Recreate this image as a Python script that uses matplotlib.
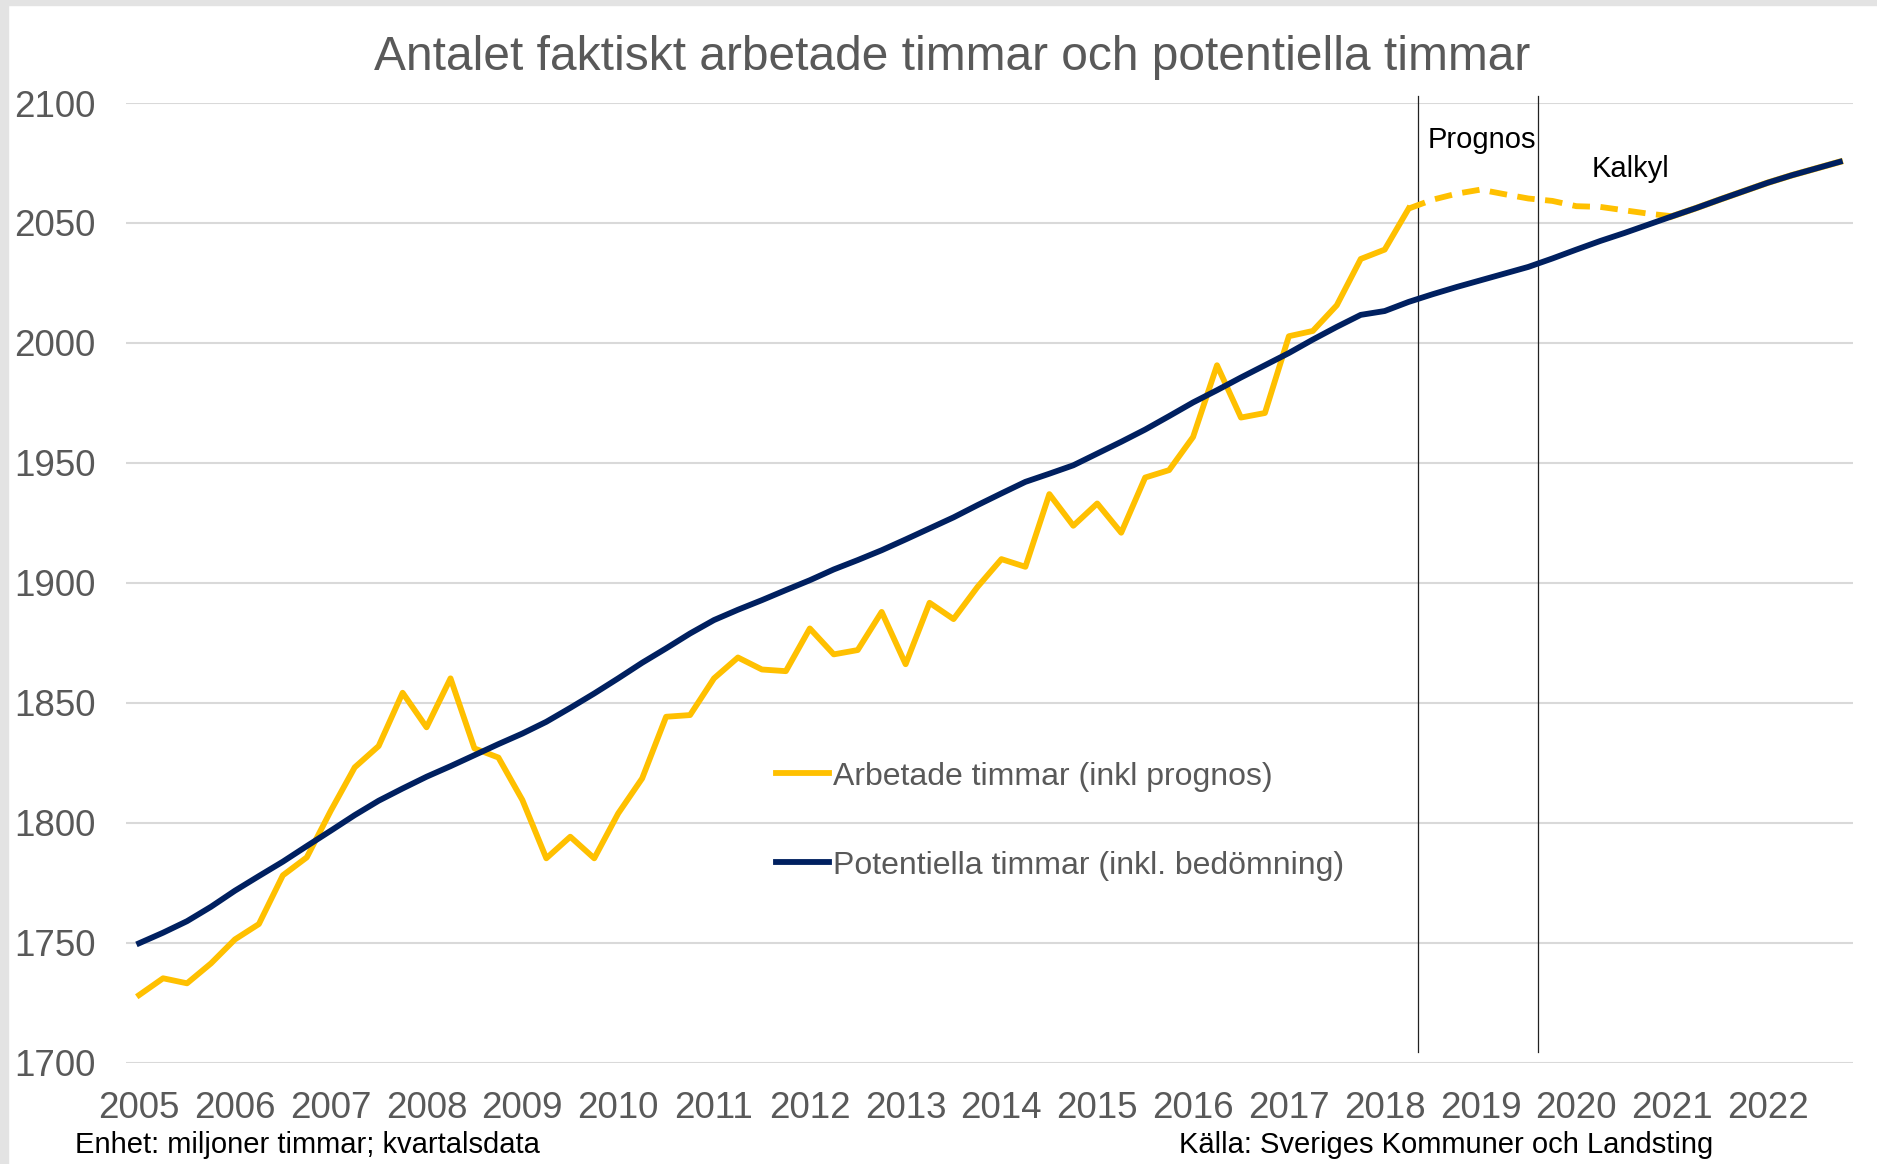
import matplotlib
matplotlib.use("Agg")
import matplotlib.pyplot as plt
from matplotlib.patches import Rectangle

plt.rcParams["font.family"] = ["Liberation Sans", "DejaVu Sans"]

# quarterly data 2005Q1 - 2022Q4 (miljoner timmar)
years = list(range(2005, 2023))

arbetade = [
    1728.2, 1735.2, 1733.1, 1741.4, 1751.4, 1757.8, 1778.1, 1785.6,
    1805.0, 1823.1, 1832.0, 1854.2, 1839.8, 1860.2, 1831.0, 1827.2,
    1809.5, 1785.2, 1794.2, 1785.2, 1803.9, 1818.5, 1844.2, 1844.9,
    1860.2, 1868.9, 1863.9, 1863.2, 1881.0, 1870.2, 1872.0, 1887.9,
    1866.1, 1891.7, 1884.9, 1898.3, 1909.9, 1906.7, 1937.0, 1923.8,
    1933.1, 1920.9, 1943.9, 1947.0, 1960.8, 1990.7, 1968.9, 1970.8,
    2002.8, 2005.0, 2015.7, 2035.0, 2038.9, 2056.0,
]
# prognos / kalkyl part of the worked hours
arbetade_prognos = [
    2059.7, 2062.2, 2063.9, 2062.0, 2060.2, 2059.2, 2057.0, 2056.7,
    2055.3, 2053.9, 2052.8,
]
arbetade_kalkyl = [2056.2, 2059.8, 2063.3, 2066.8, 2069.9, 2072.7, 2075.5]

potentiella = [
    1749.8, 1754.2, 1759.0, 1765.0, 1771.7, 1777.8, 1783.8, 1790.3,
    1796.7, 1803.2, 1809.2, 1814.3, 1819.2, 1823.6, 1828.2, 1832.8,
    1837.2, 1842.1, 1847.9, 1853.9, 1860.2, 1866.7, 1872.7, 1878.9,
    1884.5, 1888.8, 1892.8, 1897.0, 1901.1, 1905.6, 1909.5, 1913.6,
    1918.1, 1922.7, 1927.3, 1932.4, 1937.3, 1942.1, 1945.5, 1949.0,
    1953.9, 1958.8, 1963.9, 1969.5, 1975.2, 1980.3, 1985.6, 1990.7,
    1995.8, 2001.4, 2006.7, 2011.7, 2013.3, 2017.1, 2020.3, 2023.3,
    2026.1, 2028.9, 2031.7, 2035.2, 2038.9, 2042.5, 2045.8, 2049.3,
    2052.8, 2056.2, 2059.8, 2063.3, 2066.8, 2069.9, 2072.7, 2075.5,
]

prognos_start = 53.4
kalkyl_start = 58.4

YELLOW = "#FFC000"
NAVY = "#002060"
GREY = "#595959"

fig = plt.figure(figsize=(18.77, 11.64), dpi=100)
ax = fig.add_axes([0.0671, 0.0870, 0.9201, 0.8245])

# light frame on left and top, like the original screenshot
fig.patches.append(Rectangle((0, 0), 0.0045, 1, transform=fig.transFigure,
                             color="#e3e3e3", zorder=0))
fig.patches.append(Rectangle((0, 0.9955), 1, 0.0045, transform=fig.transFigure,
                             color="#e3e3e3", zorder=0))

n_hist = len(arbetade)
x_hist = list(range(n_hist))
x_prog = list(range(n_hist - 1, n_hist - 1 + len(arbetade_prognos) + 1))
y_prog = [arbetade[-1]] + arbetade_prognos
x_kalk = list(range(x_prog[-1], x_prog[-1] + len(arbetade_kalkyl) + 1))
y_kalk = [arbetade_prognos[-1]] + arbetade_kalkyl

ax.plot(x_hist, arbetade, color=YELLOW, lw=4.2,
        label="Arbetade timmar (inkl prognos)", zorder=3)
ax.plot(x_prog, y_prog, color=YELLOW, lw=4.2, dashes=(3.0, 1.8), zorder=3)
ax.plot(x_kalk, y_kalk, color=YELLOW, lw=4.6, zorder=3)
ax.plot(range(len(potentiella)), potentiella, color=NAVY, lw=4.2,
        solid_joinstyle="round", label="Potentiella timmar (inkl. bedömning)",
        zorder=4)

for xv in (prognos_start, kalkyl_start):
    ax.plot([xv, xv], [1704.6, 2103], color="#222222", lw=0.9,
            clip_on=False, zorder=2)

ax.text(53.8, 2084.6, "Prognos", fontsize=21, color="black", va="center")
ax.text(60.65, 2072.5, "Kalkyl", fontsize=21, color="black", va="center")

ax.set_xlim(-0.55, 71.55)
ax.set_ylim(1700, 2100)
ax.set_yticks(range(1700, 2101, 50))
ax.set_xticks(range(0, 72, 4))
ax.set_xticklabels([str(y) for y in years])
ax.tick_params(axis="both", length=0, labelsize=26.5, labelcolor=GREY)
ax.tick_params(axis="y", pad=22)
ax.tick_params(axis="x", pad=20.5)
ax.grid(axis="y", color="#d9d9d9", lw=1.5)
ax.set_axisbelow(True)
for s in ax.spines.values():
    s.set_visible(False)

leg = ax.legend(loc="center left", bbox_to_anchor=(0.4134, 0.2946),
                bbox_transform=fig.transFigure, frameon=False, fontsize=23,
                handlelength=1.65, handletextpad=0.15, labelspacing=1.85,
                borderpad=0, borderaxespad=0)
for t in leg.get_texts():
    t.set_color(GREY)

fig.text(0.5072, 0.9505, "Antalet faktiskt arbetade timmar och potentiella timmar",
         ha="center", va="center", fontsize=34.5, color=GREY)
fig.text(0.040, 0.0167, "Enhet: miljoner timmar; kvartalsdata",
         ha="left", va="center", fontsize=21, color="black")
fig.text(0.628, 0.0167, "Källa: Sveriges Kommuner och Landsting",
         ha="left", va="center", fontsize=21, color="black")

fig.savefig("out.png", dpi=100)
